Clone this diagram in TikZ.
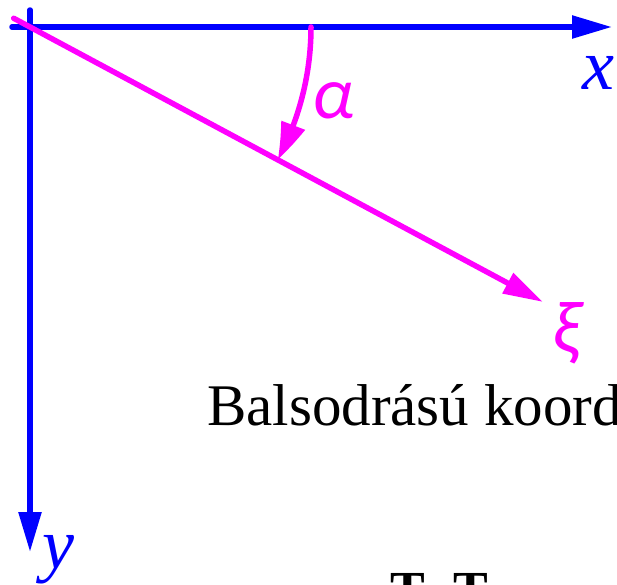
\documentclass[tikz,border=0pt]{standalone}
\usepackage{fontspec}
\setmainfont{Liberation Serif}
\newfontfamily\greekit{Carlito}
\usetikzlibrary{arrows.meta,bending,calc}
\definecolor{axblue}{RGB}{0,0,255}
\definecolor{xipink}{RGB}{255,0,255}
\tikzset{
  axis/.style={line width=5.5pt, line cap=round, -{Triangle[length=40pt,width=22pt]}},
  lbl/.style={inner sep=0pt, font=\fontsize{72}{72}\selectfont\itshape},
  glbl/.style={inner sep=0pt, font=\fontsize{74}{74}\greekit\itshape},
  body/.style={inner sep=0pt, anchor=base west, font=\fontsize{59}{60}\selectfont},
  boldt/.style={inner sep=0pt, anchor=base west, font=\fontsize{52}{52}\selectfont\bfseries}
}
\begin{document}
\begin{tikzpicture}[x=1pt,y=-1pt]
\useasboundingbox (0,0) rectangle (617,584);
\coordinate (O) at (30,27);
\coordinate (xs) at (12,27);
\coordinate (xe) at (612,27);
\coordinate (ys) at (30,10);
\coordinate (ye) at (30,552);
\coordinate (ks) at ($(O)+(208.2:18.5)$);
\coordinate (ke) at (543,302);
\draw[axis, axblue] (xs) -- (xe);
\draw[axis, axblue] (ys) -- (ye);
\draw[axis, xipink] (ks) -- (ke);
\draw[axis, xipink, -{Triangle[length=38pt,width=24pt,bend]}] ($(O)+(0:281)$) arc[start angle=0, end angle=28.2, radius=281];
\node[lbl, text=axblue] (xl) at (598,73) {x};
\node[lbl, text=axblue] (yl) at (58,560) {y};
\node[glbl, text=xipink] (al) at (333,101) {α};
\node[glbl, text=xipink] (xil) at (566,333) {ξ};
\node[body] (cap) at (207,425) {Balsodrású koord};
\node[boldt] (t1) at (390,607) {T};
\node[boldt] (t2) at (453,607) {T};
\end{tikzpicture}
\end{document}
